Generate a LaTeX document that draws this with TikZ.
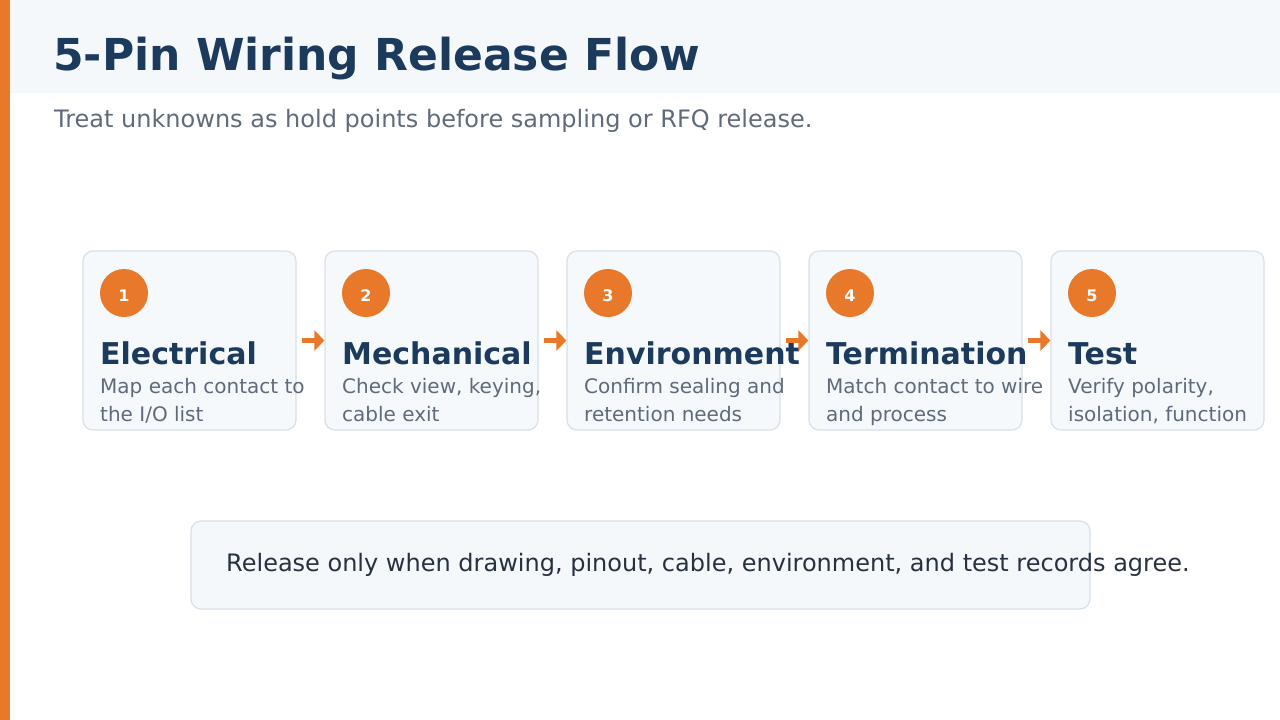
\documentclass[tikz,border=0pt]{standalone}
\usepackage{fontspec}
\setmainfont{DejaVu Sans}
\usetikzlibrary{arrows.meta}

\definecolor{accent}{HTML}{E8782A}
\definecolor{navy}{HTML}{1B3A5C}
\definecolor{slate}{HTML}{5F6B7A}
\definecolor{inkdark}{HTML}{27313F}
\definecolor{bandfill}{HTML}{F4F8FB}
\definecolor{cardfill}{HTML}{F5F9FC}
\definecolor{cardline}{HTML}{D8E0EA}

\begin{document}
\begin{tikzpicture}[x=1pt, y=-1pt,
  stepcard/.style={draw=cardline, fill=cardfill, rounded corners=10pt, line width=1.2pt,
    minimum width=213pt, minimum height=179pt, inner sep=0pt},
  numdot/.style={circle, fill=accent, minimum size=48pt, inner sep=0pt},
  numtext/.style={inner sep=0pt, text=white, font=\fontsize{16}{18}\selectfont\bfseries},
  steptitle/.style={anchor=base west, inner sep=0pt, text=navy,
    font=\fontsize{30}{34}\selectfont\bfseries},
  stepnote/.style={anchor=base west, inner sep=0pt, text=slate,
    font=\fontsize{20}{24}\selectfont},
  flowarrow/.style={draw=accent, line width=5pt, shorten <=5pt,
    -{Triangle[length=10pt, width=20pt]}},
  notebox/.style={draw=cardline, fill=bandfill, rounded corners=10pt, line width=1.2pt,
    minimum width=899pt, minimum height=88pt, inner sep=0pt}]
  \useasboundingbox (0,0) rectangle (1280,720);

  % header band
  \fill[bandfill] (10,0) rectangle (1280,93);
  \fill[accent] (0,0) rectangle (10,720);
  \node[anchor=base west, inner sep=0pt, text=navy, font=\fontsize{44}{52}\selectfont\bfseries]
    (title) at (53,70) {5-Pin Wiring Release Flow};
  \node[anchor=base west, inner sep=0pt, text=slate, font=\fontsize{24}{28}\selectfont]
    (subtitle) at (54,127) {Treat unknowns as hold points before sampling or RFQ release.};

  % step cards
  \foreach \i/\name/\lineA/\lineB in {1/Electrical/Map each contact to/{the I/O list},
      2/Mechanical/{Check view, keying,}/cable exit,
      3/Environment/Confirm sealing and/retention needs,
      4/Termination/Match contact to wire/and process,
      5/Test/{Verify polarity,}/{isolation, function}} {
    \pgfmathsetmacro{\x}{83+242*(\i-1)}
    \node[stepcard] (card\i) at (\x+106.5,340.5) {};
    \node[numdot] (num\i) at (\x+41,293) {};
    \node[numtext, anchor=base] (digit\i) at (\x+41,301) {\i};
    \node[steptitle] (name\i) at (\x+17,364) {\name};
    \node[stepnote] (noteA\i) at (\x+17,393) {\lineA};
    \node[stepnote] (noteB\i) at (\x+17,421) {\lineB};
  }

  % flow arrows
  \foreach \i in {1,...,4} {
    \pgfmathtruncatemacro{\j}{\i+1}
    \draw[flowarrow] (card\i.east) -- (card\j.west);
  }

  % release note
  \node[notebox] (release) at (640.5,565) {};
  \node[anchor=base west, inner sep=0pt, text=inkdark, font=\fontsize{24}{28}\selectfont]
    (releasetext) at (226,571) {Release only when drawing, pinout, cable, environment, and test records agree.};
\end{tikzpicture}
\end{document}
